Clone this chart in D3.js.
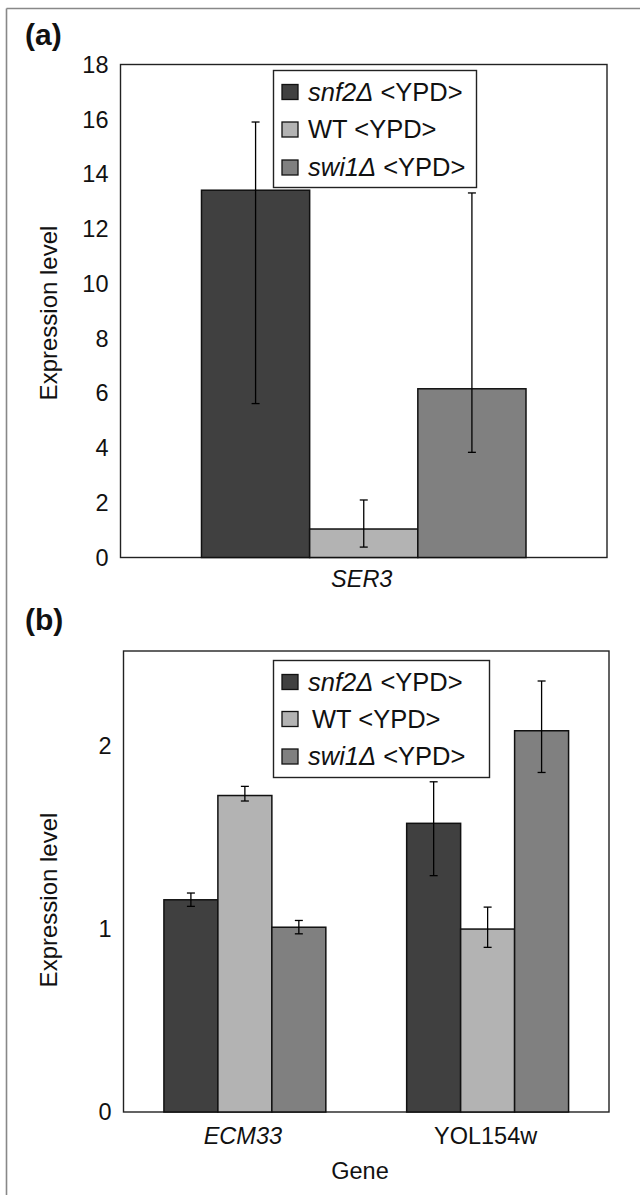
<!DOCTYPE html>
<html>
<head>
<meta charset="utf-8">
<script src="https://cdn.jsdelivr.net/npm/d3@7"></script>
<style>
  body { margin: 0; background: #fff; }
  svg { display: block; }
  text { font-family: "Liberation Sans", Arial, Helvetica, sans-serif; fill: #111; }
</style>
</head>
<body>
<svg width="640" height="1195"></svg>
<script>
// series shared by both panels
const seriesKeys = ["snf2", "WT", "swi1"];
const seriesColors = ["#404040", "#b3b3b3", "#808080"];

// panel (a)
const genesA = ["SER3"];
const snf2A = [13.41], snf2A_lo = [5.62], snf2A_hi = [15.9];
const wtA = [1.04], wtA_lo = [0.38], wtA_hi = [2.1];
const swi1A = [6.16], swi1A_lo = [3.84], swi1A_hi = [13.31];
const ticksA = [0, 2, 4, 6, 8, 10, 12, 14, 16, 18];

// panel (b)
const genesB = ["ECM33", "YOL154w"];
const snf2B = [1.16, 1.578], snf2B_lo = [1.124, 1.292], snf2B_hi = [1.197, 1.805];
const wtB = [1.73, 1.0], wtB_lo = [1.70, 0.90], wtB_hi = [1.78, 1.12];
const swi1B = [1.01, 2.084], swi1B_lo = [0.974, 1.856], swi1B_hi = [1.047, 2.356];
const ticksB = [0, 1, 2];

const italicGenes = ["SER3", "ECM33"];

const svg = d3.select("svg");

// outer frame (only top and left edges show)
svg.append("line").attr("x1", 6.5).attr("y1", 8.5).attr("x2", 640).attr("y2", 8.5)
  .attr("stroke", "#888").attr("stroke-width", 1.6);
svg.append("line").attr("x1", 6.5).attr("y1", 8.5).attr("x2", 6.5).attr("y2", 1195)
  .attr("stroke", "#888").attr("stroke-width", 1.6);

function drawPanel(p) {
  const g = svg.append("g");
  const y = d3.scaleLinear().domain([0, p.yMax]).range([p.bottom, p.top]);
  const x0 = d3.scaleBand().domain(p.genes).range([p.left, p.right]);
  const groupW = x0.bandwidth() * 0.667;
  const x1 = d3.scaleBand().domain(seriesKeys).range([0, groupW]);

  // panel letter
  g.append("text").attr("x", 25).attr("y", p.letterY)
    .attr("font-size", 30).attr("font-weight", "bold").text(p.letter);

  // plot box
  g.append("rect").attr("x", p.left).attr("y", p.top)
    .attr("width", p.right - p.left).attr("height", p.bottom - p.top)
    .attr("fill", "#fff").attr("stroke", "#222").attr("stroke-width", 1.4);

  // y tick labels (no tick marks)
  g.append("g").selectAll("text").data(p.ticks).enter().append("text")
    .attr("x", p.left - 12).attr("y", d => y(d)).attr("dy", "0.35em")
    .attr("text-anchor", "end").attr("font-size", 23.5).text(d => d);

  // bars and error bars
  const rows = [];
  p.genes.forEach((gene, i) => {
    seriesKeys.forEach((k, j) => {
      rows.push({ gene, key: k, color: seriesColors[j],
        v: p.values[j][i], lo: p.lo[j][i], hi: p.hi[j][i] });
    });
  });
  const bx = d => x0(d.gene) + (x0.bandwidth() - groupW) / 2 + x1(d.key);

  g.append("g").selectAll("rect").data(rows).enter().append("rect")
    .attr("x", bx).attr("y", d => y(d.v))
    .attr("width", x1.bandwidth()).attr("height", d => y(0) - y(d.v))
    .attr("fill", d => d.color).attr("stroke", "#111").attr("stroke-width", 1.5);

  const eb = g.append("g").attr("stroke", "#000").attr("stroke-width", 1.3);
  rows.forEach(d => {
    const cx = bx(d) + x1.bandwidth() / 2;
    eb.append("line").attr("x1", cx).attr("x2", cx).attr("y1", y(d.lo)).attr("y2", y(d.hi));
    eb.append("line").attr("x1", cx - 4).attr("x2", cx + 4).attr("y1", y(d.lo)).attr("y2", y(d.lo));
    eb.append("line").attr("x1", cx - 4).attr("x2", cx + 4).attr("y1", y(d.hi)).attr("y2", y(d.hi));
  });

  // category labels
  g.append("g").selectAll("text").data(p.genes).enter().append("text")
    .attr("x", d => x0(d) + x0.bandwidth() / 2 - 2).attr("y", p.catY)
    .attr("text-anchor", "middle").attr("font-size", 23.5)
    .attr("font-style", d => italicGenes.includes(d) ? "italic" : "normal")
    .text(d => d);

  // y axis title
  g.append("text").attr("transform", `translate(57,${p.ylabelY}) rotate(-90)`)
    .attr("text-anchor", "middle").attr("font-size", 24).text("Expression level");

  // legend
  const lg = g.append("g");
  lg.append("rect").attr("x", p.legend.x).attr("y", p.legend.y)
    .attr("width", p.legend.w).attr("height", p.legend.h)
    .attr("fill", "#fff").attr("stroke", "#222").attr("stroke-width", 1.4);
  seriesKeys.forEach((k, j) => {
    const ry = p.legend.rows[j];
    lg.append("rect").attr("x", p.legend.x + 8.5).attr("y", ry - 7.5)
      .attr("width", 16).attr("height", 15)
      .attr("fill", seriesColors[j]).attr("stroke", "#111").attr("stroke-width", 1.3);
    const t = lg.append("text").attr("x", p.legend.x + 34.5 + (k === "WT" ? p.legend.wtShift : 0))
      .attr("y", ry).attr("dy", "0.35em").attr("font-size", 25.5);
    if (k === "WT") {
      t.text("WT <YPD>");
    } else {
      t.append("tspan").attr("font-style", "italic").text(k + "\u0394");
      t.append("tspan").text(" <YPD>");
    }
  });
}

drawPanel({
  letter: "(a)", letterY: 45,
  top: 64.5, bottom: 557.5, left: 120.5, right: 607,
  yMax: 18, ticks: ticksA, genes: genesA,
  values: [snf2A, wtA, swi1A], lo: [snf2A_lo, wtA_lo, swi1A_lo], hi: [snf2A_hi, wtA_hi, swi1A_hi],
  catY: 587, ylabelY: 313,
  legend: { x: 273.5, y: 70.5, w: 203, h: 117, rows: [92, 129.5, 167.5], wtShift: 0 }
});

drawPanel({
  letter: "(b)", letterY: 630,
  top: 651, bottom: 1112, left: 123.5, right: 609,
  yMax: 2.52, ticks: ticksB, genes: genesB,
  values: [snf2B, wtB, swi1B], lo: [snf2B_lo, wtB_lo, swi1B_lo], hi: [snf2B_hi, wtB_hi, swi1B_hi],
  catY: 1143.5, ylabelY: 900,
  legend: { x: 273.5, y: 660.5, w: 216, h: 117, rows: [682, 719, 756.5], wtShift: 4 }
});

// x axis title, panel (b)
svg.append("text").attr("x", 360).attr("y", 1178.5).attr("text-anchor", "middle")
  .attr("font-size", 23.5).text("Gene");
</script>
</body>
</html>
